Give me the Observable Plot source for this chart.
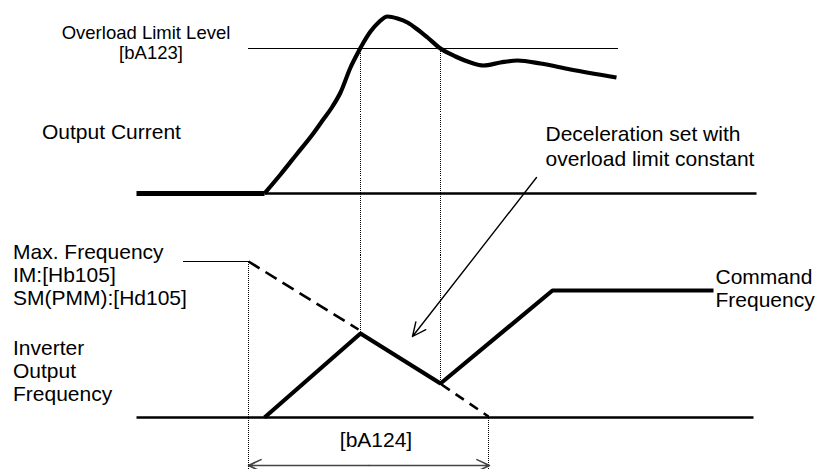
<!DOCTYPE html>
<html><head><meta charset="utf-8">
<script src="https://cdn.jsdelivr.net/npm/d3@7"></script>
<script src="https://cdn.jsdelivr.net/npm/@observablehq/plot@0.6"></script>
<style>html,body{margin:0;padding:0;background:#fff} svg{display:block}</style>
</head><body><div id="chart"></div>
<script>
// Diagram coordinates: t = time (horizontal), v = level (vertical, downward units)
// Output current trace
const currentT = [264,280,296,312,322,332,340,350,357,363,370,378,387,397,407,417,427,440,455,470,483,500,517,540,570,616];
const currentV = [193,174,154,134,120,106,92,67,53,42,31,22,16,18,22,29,37,48,56,62,65,62,60,63,69,77];
// Current baseline: before start (thick) and after (thin)
const curBaseHoldT = [136,264];
const curBaseT = [264,756];
const curBaseV = 193;
// Overload limit level
const limitT = [248,617];
const limitV = 48;
// Inverter output frequency (solid)
const freqT = [264,360,440,552,713];
const freqV = [417,333,383,290,290];
// Deceleration with max-frequency slope (dashed)
const dashA_T = [248,358]; const dashA_V = [261,329];
const dashB_T = [441,488]; const dashB_V = [384,416];
// Frequency baseline
const freqBaseT = [136,753];
const freqBaseV = 417;
// Max frequency level
const maxFreqT = [183,248];
const maxFreqV = 261;
// Vertical guide lines
const guideT  = [360,440,248,488];
const guideV1 = [48,48,261,415];
const guideV2 = [333,383,469,469];
// Time span bA124
const spanT = [248,489];
const spanV = 465;
// Annotation arrow
const annT = [536,412];
const annV = [177,336];
// Labels
const labels = [
  {t:41.5, v:122, text:"Output Current"},
  {t:12.5, v:242, text:"Max. Frequency\nIM:[Hb105]\nSM(PMM):[Hd105]"},
  {t:12.5, v:338, text:"Inverter\nOutput\nFrequency"},
  {t:715, v:267, text:"Command\nFrequency"}
];
const noteLabel = [{t:545, v:123, text:"Deceleration set with\noverload limit constant"}];
const centerLabels = [
  {t:145.5, v:25, text:"Overload Limit Level", size:18.5},
  {t:150.5, v:45.5, text:"[bA123]", size:18.5},
  {t:375.5, v:431.5, text:"[bA124]", size:21}
];

const pts = (T, V) => T.map((t, i) => ({t, v: Array.isArray(V) ? V[i] : V}));

const dotted = {stroke:"#000", strokeWidth:1, strokeDasharray:"1 1", shapeRendering:"crispEdges"};
const chart = Plot.plot({
  width: 816, height: 469,
  margin: 0,
  x: {domain:[0,816], range:[0,816], axis:null},
  y: {domain:[0,469], range:[0,469], axis:null},
  style: {fontFamily:"'Liberation Sans', Arial, sans-serif", background:"#fff"},
  marks: [
    // dotted guides
    Plot.line(pts(limitT, limitV), {x:"t", y:"v", ...dotted}),
    Plot.line(pts(maxFreqT, maxFreqV), {x:"t", y:"v", ...dotted}),
    Plot.link(guideT.map((t,i)=>({t, v1:guideV1[i], v2:guideV2[i]})), {x1:"t", x2:"t", y1:"v1", y2:"v2", ...dotted}),
    // baselines
    Plot.line(pts(curBaseT, curBaseV), {x:"t", y:"v", stroke:"#000", strokeWidth:2.6, strokeLinecap:"butt"}),
    Plot.line(pts(curBaseHoldT, curBaseV), {x:"t", y:"v", stroke:"#000", strokeWidth:5, strokeLinecap:"butt"}),
    Plot.line(pts(freqBaseT, freqBaseV), {x:"t", y:"v", stroke:"#000", strokeWidth:2.6, strokeLinecap:"butt"}),
    // current trace
    Plot.line(pts(currentT, currentV), {x:"t", y:"v", stroke:"#000", strokeWidth:4.2, curve:"monotone-x", strokeLinecap:"butt"}),
    // dashed
    Plot.line(pts(dashA_T, dashA_V), {x:"t", y:"v", stroke:"#000", strokeWidth:2.6, strokeDasharray:"13 7", strokeLinecap:"butt"}),
    Plot.line(pts(dashB_T, dashB_V), {x:"t", y:"v", stroke:"#000", strokeWidth:2.6, strokeDasharray:"10 7", strokeLinecap:"butt"}),
    // frequency
    Plot.line(pts(freqT, freqV), {x:"t", y:"v", stroke:"#000", strokeWidth:4.2, strokeLinejoin:"miter", strokeLinecap:"butt"}),
    // span arrows
    Plot.arrow([{a:(spanT[0]+spanT[1])/2, b:spanT[0]}, {a:(spanT[0]+spanT[1])/2, b:spanT[1]}],
      {x1:"a", x2:"b", y1:()=>spanV, y2:()=>spanV, stroke:"#444", strokeWidth:1.6, headLength:13, headAngle:50}),
    // annotation arrow
    Plot.arrow([{x1:annT[0], y1:annV[0], x2:annT[1], y2:annV[1]}],
      {x1:"x1", y1:"y1", x2:"x2", y2:"y2", stroke:"#000", strokeWidth:1.4, headLength:16, headAngle:50}),
    // labels
    Plot.text(labels, {x:"t", y:"v", text:"text", fontSize:21, lineHeight:1.1, textAnchor:"start", lineAnchor:"top", fill:"#000"}),
    Plot.text(noteLabel, {x:"t", y:"v", text:"text", fontSize:21, lineHeight:1.19, textAnchor:"start", lineAnchor:"top", fill:"#000"}),
    Plot.text(centerLabels, {x:"t", y:"v", text:"text", fontSize:d=>d.size, textAnchor:"middle", lineAnchor:"top", fill:"#000"})
  ]
});
document.getElementById("chart").appendChild(chart);
</script>
</body></html>
